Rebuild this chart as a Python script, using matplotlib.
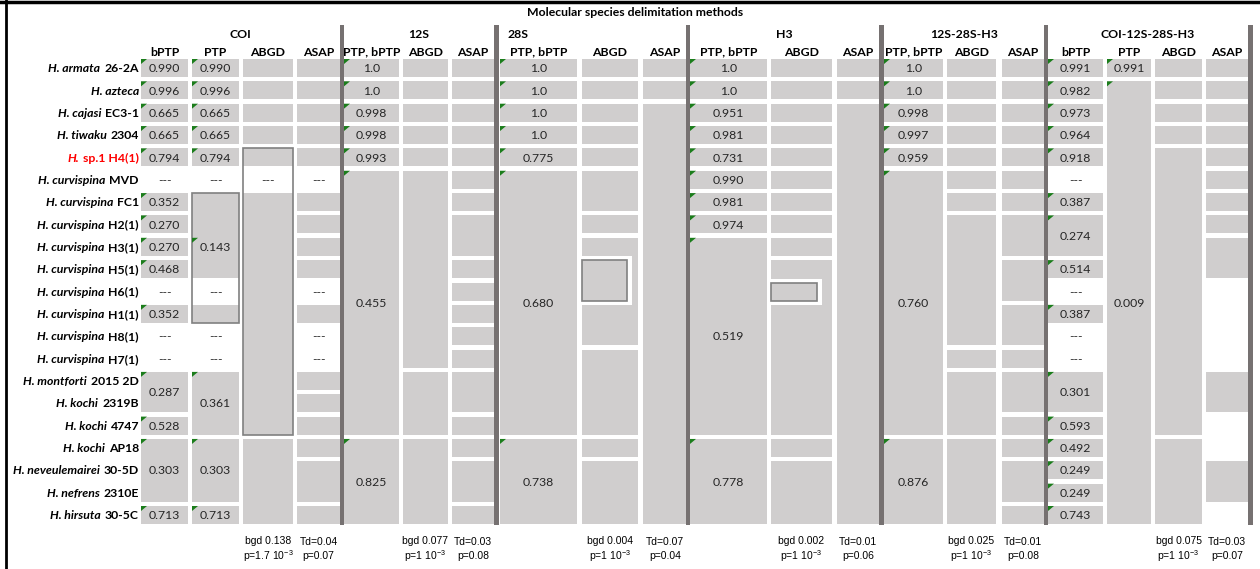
import matplotlib
matplotlib.use('Agg')
import matplotlib.pyplot as plt
from matplotlib.patches import Rectangle, Polygon

plt.rcParams['font.family'] = ['Lato', 'DejaVu Sans']
plt.rcParams['mathtext.default'] = 'regular'

# ---------------- data ----------------
title = 'Molecular species delimitation methods'
genes = ['COI', '12S', '28S', 'H3', '12S-28S-H3', 'COI-12S-28S-H3']
methods = [['bPTP', 'PTP', 'ABGD', 'ASAP'],
           ['PTP, bPTP', 'ABGD', 'ASAP'],
           ['PTP, bPTP', 'ABGD', 'ASAP'],
           ['PTP, bPTP', 'ABGD', 'ASAP'],
           ['PTP, bPTP', 'ABGD', 'ASAP'],
           ['bPTP', 'PTP', 'ABGD', 'ASAP']]

species = ['H. armata', 'H. azteca', 'H. cajasi', 'H. tiwaku', 'H.',
           'H. curvispina', 'H. curvispina', 'H. curvispina', 'H. curvispina',
           'H. curvispina', 'H. curvispina', 'H. curvispina', 'H. curvispina',
           'H. curvispina', 'H. montforti', 'H. kochi', 'H. kochi', 'H. kochi',
           'H. neveulemairei', 'H. nefrens', 'H. hirsuta']
codes = ['26-2A', '', 'EC3-1', '2304', 'sp.1 H4(1)', 'MVD', 'FC1', 'H2(1)',
         'H3(1)', 'H5(1)', 'H6(1)', 'H1(1)', 'H8(1)', 'H7(1)', '2015 2D',
         '2319B', '4747', 'AP18', '30-5D', '2310E', '30-5C']
red_rows = [4]


def plain(*spans):
    # grey blocks without a value; an int is one row, a tuple is a merged range
    out = []
    for s in spans:
        if isinstance(s, tuple):
            out.append((s[0], s[1], None))
        else:
            out.append((s, s, None))
    return out


def dash(*rows):
    return [(r, r, '---') for r in rows]


# each entry: (first row, last row, value[, row of the value])
coi_bptp = [(0, 0, '0.990'), (1, 1, '0.996'), (2, 2, '0.665'), (3, 3, '0.665'),
            (4, 4, '0.794'), (6, 6, '0.352'), (7, 7, '0.270'), (8, 8, '0.270'),
            (9, 9, '0.468'), (11, 11, '0.352'), (14, 15, '0.287'), (16, 16, '0.528'),
            (17, 19, '0.303'), (20, 20, '0.713')] + dash(5, 10, 12, 13)
coi_ptp = [(0, 0, '0.990'), (1, 1, '0.996'), (2, 2, '0.665'), (3, 3, '0.665'),
           (4, 4, '0.794'), (6, 9, '0.143', 8), (11, 11, None), (14, 16, '0.361'),
           (17, 19, '0.303'), (20, 20, '0.713')] + dash(5, 10, 12, 13)
coi_abgd = plain(0, 1, 2, 3, 4, (6, 16), (17, 20)) + dash(5)
coi_asap = plain(0, 1, 2, 3, 4, 6, 7, 8, 9, 11, 14, 15, 16, 17, (18, 19), 20) + dash(5, 10, 12, 13)

s12_ptp = [(0, 0, '1.0'), (1, 1, '1.0'), (2, 2, '0.998'), (3, 3, '0.998'),
           (4, 4, '0.993'), (5, 16, '0.455'), (17, 20, '0.825')]
s12_abgd = plain(0, 1, 2, 3, 4, (5, 13), (14, 16), (17, 20))
s12_asap = plain(0, 1, 2, 3, 4, 5, 6, (7, 8), 9, 10, 11, 12, 13, (14, 15), 16, 17, (18, 19), 20)

s28_ptp = [(0, 0, '1.0'), (1, 1, '1.0'), (2, 2, '1.0'), (3, 3, '1.0'),
           (4, 4, '0.775'), (5, 16, '0.680'), (17, 20, '0.738')]
s28_abgd = plain(0, 1, 2, 3, 4, (5, 6), 7, (8, 12), (13, 16), 17, (18, 20))
s28_asap = plain(0, 1, (2, 20))

h3_ptp = [(0, 0, '1.0'), (1, 1, '1.0'), (2, 2, '0.951'), (3, 3, '0.981'),
          (4, 4, '0.731'), (5, 5, '0.990'), (6, 6, '0.981'), (7, 7, '0.974'),
          (8, 16, '0.519'), (17, 20, '0.778')]
h3_abgd = plain(0, 1, 2, 3, 4, 5, 6, 7, 8, (9, 16), 17, (18, 20))
h3_asap = plain(0, 1, (2, 20))

c3_ptp = [(0, 0, '1.0'), (1, 1, '1.0'), (2, 2, '0.998'), (3, 3, '0.997'),
          (4, 4, '0.959'), (5, 16, '0.760'), (17, 20, '0.876')]
c3_abgd = plain(0, 1, 2, 3, 4, 5, 6, (7, 12), 13, (14, 16), (17, 20))
c3_asap = plain(0, 1, 2, 3, 4, 5, 6, (7, 8), (9, 10), (11, 12), 13, (14, 15), 16, 17, (18, 19), 20)

all_bptp = [(0, 0, '0.991'), (1, 1, '0.982'), (2, 2, '0.973'), (3, 3, '0.964'),
            (4, 4, '0.918'), (6, 6, '0.387'), (7, 8, '0.274'), (9, 9, '0.514'),
            (11, 11, '0.387'), (14, 15, '0.301'), (16, 16, '0.593'), (17, 17, '0.492'),
            (18, 18, '0.249'), (19, 19, '0.249'), (20, 20, '0.743')] + dash(5, 10, 12, 13)
all_ptp = [(0, 0, '0.991'), (1, 20, '0.009')]
all_abgd = plain(0, 1, 2, 3, (4, 16), (17, 20))
all_asap = plain(0, 1, 2, 3, 4, 5, 6, 7, (8, 9), (14, 15), (18, 19))

columns = [coi_bptp, coi_ptp, coi_abgd, coi_asap,
           s12_ptp, s12_abgd, s12_asap,
           s28_ptp, s28_abgd, s28_asap,
           h3_ptp, h3_abgd, h3_asap,
           c3_ptp, c3_abgd, c3_asap,
           all_bptp, all_ptp, all_abgd, all_asap]

# selected (outlined) ranges: (column, first row, last row)
outlined = [(1, 6, 11), (2, 4, 16)]
inner_boxes = [(8, 9, 10), (11, 10, 10)]

abgd_notes = [('bgd 0.138', '1.7'), ('bgd 0.077', '1'), ('bgd 0.004', '1'),
              ('bgd 0.002', '1'), ('bgd 0.025', '1'), ('bgd 0.075', '1')]
asap_notes = [('Td=0.04', 'p=0.07'), ('Td=0.03', 'p=0.08'), ('Td=0.07', 'p=0.04'),
              ('Td=0.01', 'p=0.06'), ('Td=0.01', 'p=0.08'), ('Td=0.03', 'p=0.07')]

# ---------------- layout ----------------
col_x = [(141, 188), (192, 239), (243, 293), (297, 340),
         (344, 399), (403, 448), (452, 494),
         (500, 577), (582, 638), (643, 687),
         (690, 767), (771, 832), (837, 879),
         (884, 943), (947, 996), (1002, 1044),
         (1048, 1103), (1107, 1151), (1155, 1202), (1206, 1248)]
group_cols = [[0, 1, 2, 3], [4, 5, 6], [7, 8, 9], [10, 11, 12], [13, 14, 15], [16, 17, 18, 19]]
sep_x = [(340, 344), (494, 499), (686, 690), (879, 884), (1044, 1048), (1248, 1253)]
abgd_idx = [2, 5, 8, 11, 14, 18]
asap_idx = [3, 6, 9, 12, 15, 19]
inner_w = {8: 45, 11: 46}

ROW_PX = 22.35
HALF = 9 / ROW_PX
GREY = '#d0cece'
SEP = '#767171'
GREEN = '#1b7d1b'
TXT = '#262626'
FS = 8.8


def py(px):
    return (px - 68) / ROW_PX


fig = plt.figure(figsize=(12.6, 5.69), dpi=100)
ax = fig.add_axes([0, 0, 1, 1])
ax.set_xlim(0, 1260)
ax.set_ylim(py(569), py(0))
ax.axis('off')

for ci, col in enumerate(columns):
    x0, x1 = col_x[ci]
    for blk in col:
        r0, r1, txt = blk[:3]
        trow = blk[3] if len(blk) > 3 else None
        if txt != '---':
            ax.add_patch(Rectangle((x0, r0 - HALF), x1 - x0, r1 - r0 + 2 * HALF,
                                   fc=GREY, ec='none', zorder=1))
        if txt:
            ty = trow if trow is not None else (r0 + r1) / 2
            ax.text((x0 + x1) / 2, ty + 0.03, txt, ha='center', va='center',
                    fontsize=FS, color=TXT, zorder=4)
            if txt != '---':
                gy = (trow if trow is not None else r0) - HALF
                ax.add_patch(Polygon([(x0, gy), (x0 + 6, gy), (x0, gy + 5 / ROW_PX)],
                                     closed=True, fc=GREEN, ec='none', zorder=5))

for ci, r0, r1 in outlined:
    x0, x1 = col_x[ci]
    ax.add_patch(Rectangle((x0, r0 - HALF), x1 - x0, r1 - r0 + 2 * HALF,
                           fill=False, ec='#808080', lw=1.2, zorder=3))

for ci, r0, r1 in inner_boxes:
    x0, x1 = col_x[ci]
    w = inner_w[ci]
    ax.add_patch(Rectangle((x0 - 1, r0 - HALF - 4 / ROW_PX), w + 6, r1 - r0 + 2 * HALF + 8 / ROW_PX,
                           fc='white', ec='none', zorder=2))
    ax.add_patch(Rectangle((x0, r0 - HALF), w, r1 - r0 + 2 * HALF,
                           fc=GREY, ec='#808080', lw=1.2, zorder=3))

for sx0, sx1 in sep_x:
    ax.add_patch(Rectangle((sx0, py(25)), sx1 - sx0, py(525) - py(25),
                           fc=SEP, ec='none', zorder=6))

# headers
ax.text(635, py(12), title, ha='center', va='center', fontsize=FS, fontweight='bold')
for gi, g in enumerate(genes):
    cols = group_cols[gi]
    left = col_x[cols[0]][0]
    right = col_x[cols[-1]][1]
    if g == '28S':
        ax.text(left + 7, py(34), g, ha='left', va='center', fontsize=FS, fontweight='bold')
    else:
        ax.text((left + right) / 2, py(34), g, ha='center', va='center',
                fontsize=FS, fontweight='bold')
    for ci, m in zip(cols, methods[gi]):
        x0, x1 = col_x[ci]
        ax.text((x0 + x1) / 2, py(52), m, ha='center', va='center',
                fontsize=FS, fontweight='bold', zorder=7)

# footnotes
nfont = ['Liberation Sans Narrow', 'Liberation Sans']
for gi in range(len(genes)):
    a0, a1 = col_x[abgd_idx[gi]]
    b0, b1 = col_x[asap_idx[gi]]
    t1, pv = abgd_notes[gi]
    ax.text((a0 + a1) / 2, py(541), t1, ha='center', va='center', fontsize=7.5, family=nfont)
    ax.text((a0 + a1) / 2, py(556), 'p=' + pv + ' 10$^{-3}$', ha='center', va='center',
            fontsize=7.5, family=nfont)
    s1, s2 = asap_notes[gi]
    ax.text((b0 + b1) / 2, py(542), s1, ha='center', va='center', fontsize=7.5, family=nfont)
    ax.text((b0 + b1) / 2, py(556), s2, ha='center', va='center', fontsize=7.5, family=nfont)

# species labels: italic name + upright code, right aligned
renderer = fig.canvas.get_renderer()
for r, (name, code) in enumerate(zip(species, codes)):
    color = 'red' if r in red_rows else 'black'
    right = 139
    if code:
        t = ax.text(right, r + 0.03, code, ha='right', va='center', fontsize=FS,
                    fontweight='bold', color=color)
        bb = t.get_window_extent(renderer)
        right = bb.x0 - 4
    ax.text(right, r + 0.03, name, ha='right', va='center', fontsize=FS,
            fontweight='bold', style='italic', color=color)

# outer frame (top and left edges of the sheet)
ax.axhline(py(1.5), color='black', lw=2.5)
ax.axvline(6, color='black', lw=2)

fig.savefig('out.png', dpi=100)
